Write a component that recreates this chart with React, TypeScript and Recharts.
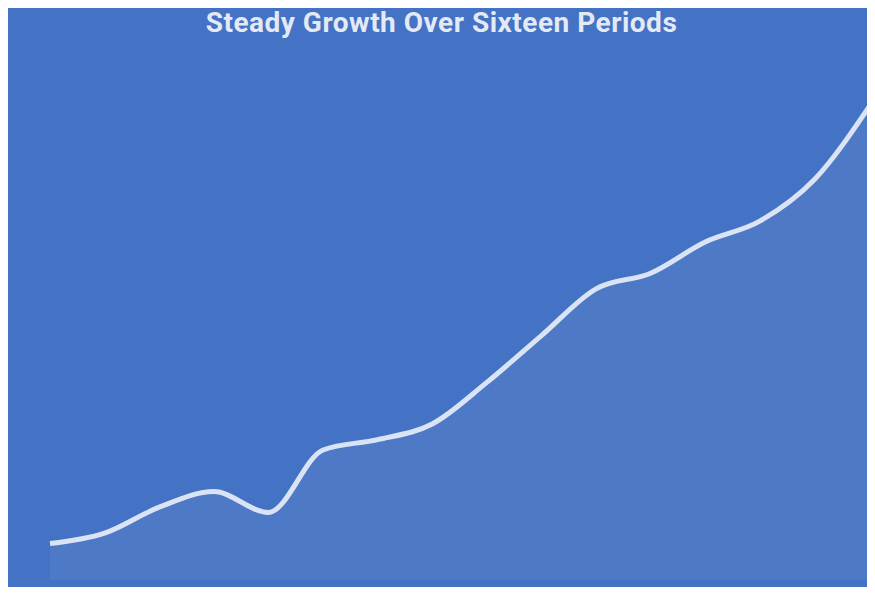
import React from "react";
import { AreaChart, Area, XAxis, YAxis } from "recharts";

// picture is heavily blurred: values, labels guessed
const periods = [
  "P1", "P2", "P3", "P4", "P5", "P6", "P7", "P8",
  "P9", "P10", "P11", "P12", "P13", "P14", "P15", "P16",
];
const growth = [7, 9, 14, 17, 13, 25, 27, 30, 38, 47, 56, 59, 65, 69, 77, 91];

const data = periods.map((p, i) => ({ period: p, value: growth[i] }));

const BLUE = "#4472C4";

export default function App() {
  return (
    <div
      style={{
        position: "relative",
        top: -8,
        left: -4,
        width: 875,
        height: 587,
        background: BLUE,
        fontFamily: "Roboto, 'Noto Sans', sans-serif",
      }}
    >
      <div
        style={{
          position: "absolute",
          top: 6,
          left: 0,
          width: 875,
          textAlign: "center",
          color: "#ffffff",
          opacity: 0.85,
          fontSize: 28,
          fontWeight: 700,
          letterSpacing: 0.5,
        }}
      >
        Steady Growth Over Sixteen Periods
      </div>
      <AreaChart
        width={875}
        height={587}
        data={data}
        margin={{ top: 60, right: 10, bottom: 7, left: 46 }}
      >
        <XAxis dataKey="period" hide />
        <YAxis domain={[0, 100]} hide />
        <Area
          type="monotone"
          dataKey="value"
          stroke="#ffffff"
          strokeOpacity={0.8}
          strokeWidth={5}
          fill="#ffffff"
          fillOpacity={0.05}
          dot={false}
          isAnimationActive={false}
        />
      </AreaChart>
    </div>
  );
}
